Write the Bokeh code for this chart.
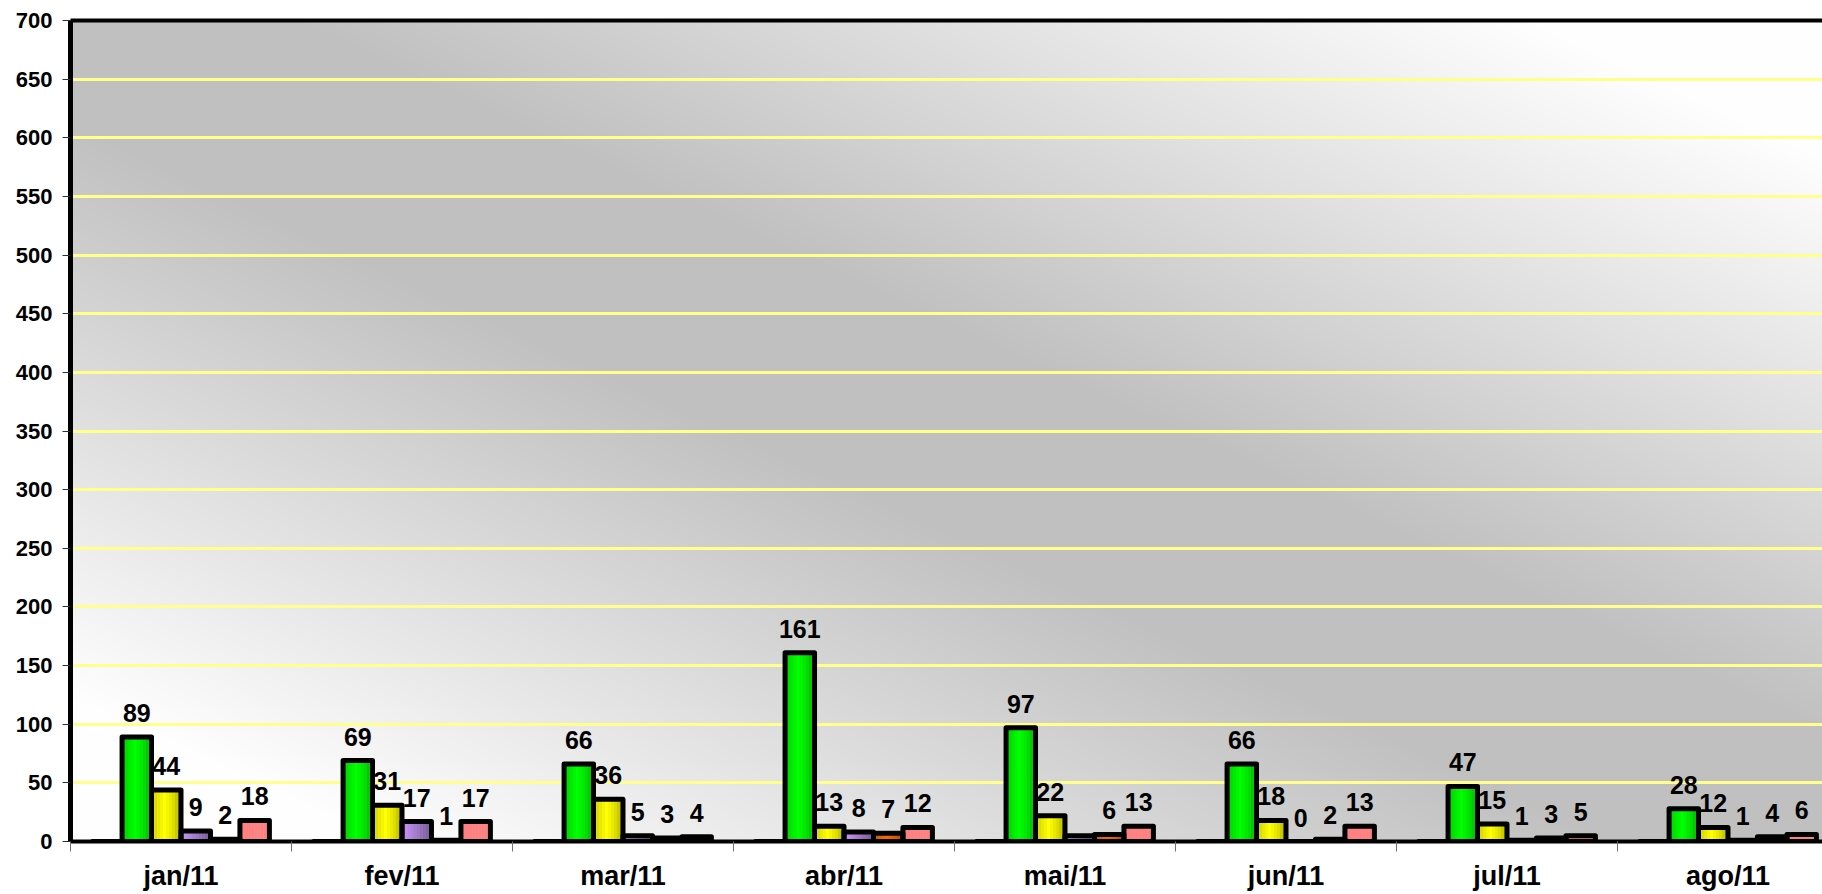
import numpy as np
from bokeh.plotting import figure
from bokeh.models import Range1d, FixedTicker, LinearAxis, ColumnDataSource, Grid
from bokeh.core.properties import value
from bokeh.embed import file_html
from bokeh.resources import INLINE

# ---- data -------------------------------------------------------------
meses = ["jan/11", "fev/11", "mar/11", "abr/11", "mai/11", "jun/11", "jul/11", "ago/11"]
serie_base = [0, 0, 0, 0, 0, 0, 0, 0]
verde = [89, 69, 66, 161, 97, 66, 47, 28]
amarelo = [44, 31, 36, 13, 22, 18, 15, 12]
roxo = [9, 17, 5, 8, 5, 0, 1, 1]
laranja = [2, 1, 3, 7, 6, 2, 3, 4]
rosa = [18, 17, 4, 12, 13, 13, 5, 6]
y_ticks = [0, 50, 100, 150, 200, 250, 300, 350, 400, 450, 500, 550, 600, 650, 700]

# (name, values, base colour, shading profile, show labels)
series = [
    ("base", serie_base, (40, 40, 160), "flat", False),
    ("verde", verde, (0, 255, 0), "cyl", True),
    ("amarelo", amarelo, (255, 255, 0), "cyl", True),
    ("roxo", roxo, (204, 153, 255), "ramp", True),
    ("laranja", laranja, (255, 102, 0), "cyl", True),
    ("rosa", rosa, (255, 128, 128), "flat", True),
]
# labels left off in the drawing
hidden_labels = {("roxo", 4)}

FONT = "Liberation Sans"
W, H = 1822, 894
LEFT, TOP, BOTTOM = 70, 20, 53
CAT_PX = 221.0
n_cat = len(meses)
x_end = (W - LEFT) / CAT_PX

p = figure(width=W, height=H, output_backend="svg", toolbar_location=None,
           x_range=Range1d(0, x_end), y_range=Range1d(0, 700),
           min_border_left=LEFT, min_border_right=0,
           min_border_top=TOP, min_border_bottom=BOTTOM,
           x_axis_type=None, y_axis_type=None)
p.outline_line_color = None
p.background_fill_color = "white"
p.border_fill_color = "white"

# ---- diagonal grey/white background of the plot area ------------------
gh, gw = 206, 442
vv = 1.0 - (np.arange(gh)[:, None] + 0.5) / gh          # 0 at top
uu = (np.arange(gw)[None, :] + 0.5) / gw                 # 0 at left
s = np.abs(uu - vv)
t = np.clip((s - 0.12) / 0.7, 0, 1)
g = (192 + 62 * t).astype(np.uint32)
img = (255 << 24) | (g << 16) | (g << 8) | g
p.image_rgba(image=[img.astype(np.uint32)], x=0, y=0, dw=n_cat, dh=700, level="image")

# ---- horizontal grid ----------------------------------------------------
grid = Grid(dimension=1, ticker=FixedTicker(ticks=y_ticks[1:]),
            grid_line_color="#ffff8c", grid_line_width=3)
p.add_layout(grid, "center")

# ---- axes ----------------------------------------------------------------
yaxis = LinearAxis(ticker=FixedTicker(ticks=y_ticks))
yaxis.axis_line_width = 5
yaxis.axis_line_color = "black"
yaxis.major_tick_out = 8
yaxis.major_tick_in = 0
yaxis.major_tick_line_color = "#303030"
yaxis.minor_tick_line_color = None
yaxis.major_label_standoff = 10
yaxis.major_label_text_font = FONT
yaxis.major_label_text_font_style = "bold"
yaxis.major_label_text_font_size = "22px"
yaxis.major_label_text_color = "black"
p.add_layout(yaxis, "left")

centers = [i + 0.5 for i in range(n_cat)]
xaxis = LinearAxis(ticker=FixedTicker(ticks=centers, minor_ticks=list(range(n_cat + 1))))
xaxis.major_label_overrides = {c: m for c, m in zip(centers, meses)}
xaxis.axis_line_width = 4
xaxis.axis_line_color = "black"
xaxis.major_tick_line_color = None
xaxis.major_tick_out = 0
xaxis.major_tick_in = 0
xaxis.minor_tick_out = 10
xaxis.minor_tick_in = 0
xaxis.minor_tick_line_color = "#707070"
xaxis.major_label_standoff = 9
xaxis.major_label_text_font = FONT
xaxis.major_label_text_font_style = "bold"
xaxis.major_label_text_font_size = "27px"
xaxis.major_label_text_color = "black"
p.add_layout(xaxis, "below")

top_axis = LinearAxis(ticker=FixedTicker(ticks=[]))
top_axis.axis_line_width = 4
top_axis.axis_line_color = "black"
top_axis.major_tick_out = 0
top_axis.major_tick_in = 0
top_axis.minor_tick_line_color = None
top_axis.major_label_text_font_size = "0px"
p.add_layout(top_axis, "above")

# ---- bars -----------------------------------------------------------------
group_w = 0.8
n_ser = len(series)
bar_w = group_w / n_ser
N_STRIP = 10


def shade(rgb, profile, k):
    f = (k + 0.5) / N_STRIP
    if profile == "cyl":
        m = 0.72 + 0.28 * np.clip(1 - abs(f - 0.45) / 0.45, 0, 1) ** 0.6
    elif profile == "ramp":
        m = 1.0 - 0.42 * f
    else:
        m = 1.0
    r, gg, b = (int(round(c * m)) for c in rgb)
    return "#%02x%02x%02x" % (r, gg, b)


for j, (name, vals, rgb, prof, _) in enumerate(series):
    xs = [i + (1 - group_w) / 2 + (j + 0.5) * bar_w for i in range(n_cat)]
    for k in range(N_STRIP):
        off = (-0.5 + (k + 0.5) / N_STRIP) * bar_w
        p.vbar(x=[x + off for x in xs], top=vals, bottom=0,
               width=bar_w / N_STRIP * 1.15, fill_color=shade(rgb, prof, k),
               line_color=None)

for j, (name, vals, rgb, prof, _) in enumerate(series):
    xs = [i + (1 - group_w) / 2 + (j + 0.5) * bar_w for i in range(n_cat)]
    p.vbar(x=xs, top=vals, bottom=0, width=bar_w, fill_color=None,
           line_color="black", line_width=5, line_join="round")

# ---- value labels ------------------------------------------------------------
lx, ly, lt = [], [], []
for j, (name, vals, rgb, prof, show) in enumerate(series):
    if not show:
        continue
    for i, v in enumerate(vals):
        if (name, i) in hidden_labels:
            continue
        lx.append(i + (1 - group_w) / 2 + (j + 0.5) * bar_w)
        ly.append(v)
        lt.append(str(v))
src = ColumnDataSource(dict(x=lx, y=ly, t=lt))
p.text(x="x", y="y", text="t", source=src, text_align="center",
       text_baseline="middle", y_offset=-24, text_font=value(FONT),
       text_font_style="bold", text_font_size="25px", text_color="black")

open("out.html", "w").write(file_html(p, INLINE))
